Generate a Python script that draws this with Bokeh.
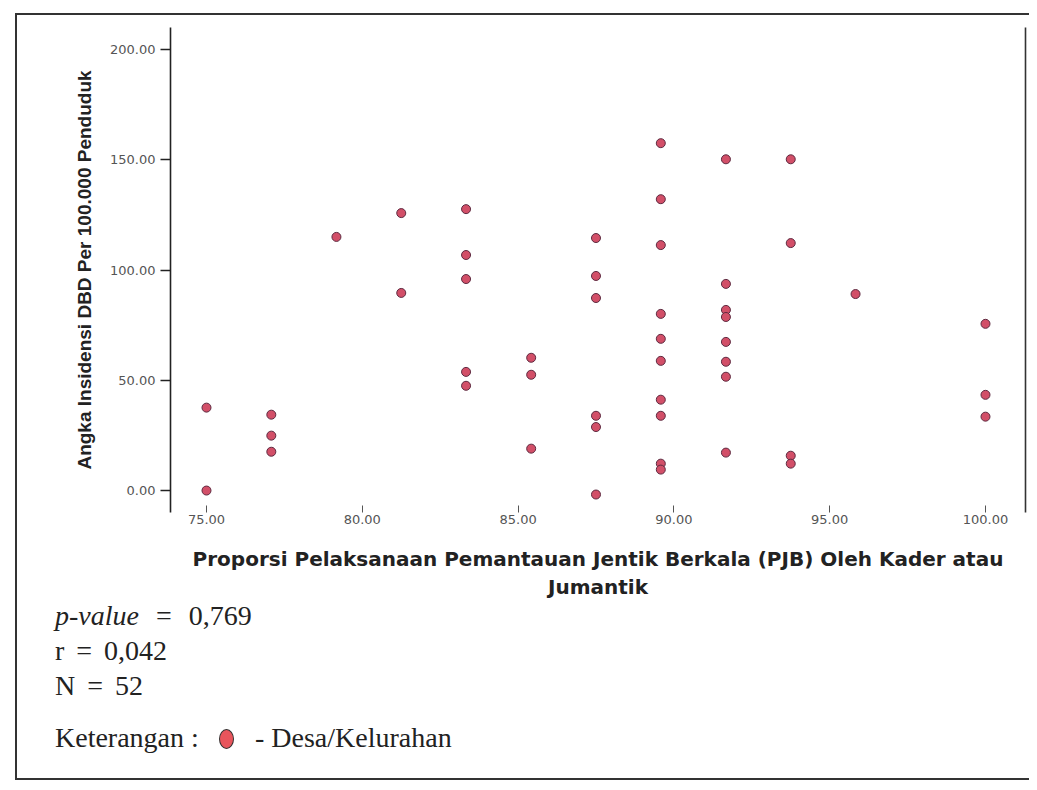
from bokeh.plotting import figure
from bokeh.models import Range1d, FixedTicker, PrintfTickFormatter, LinearAxis, Div
from bokeh.layouts import column
from bokeh.embed import file_html
from bokeh.resources import INLINE

# ---- data ----
x_ticks = [75, 80, 85, 90, 95, 100]
y_ticks = [0, 50, 100, 150, 200]

pjb = [75.00, 75.00,
       77.08, 77.08, 77.08,
       79.17,
       81.25, 81.25,
       83.33, 83.33, 83.33, 83.33, 83.33,
       85.42, 85.42, 85.42,
       87.50, 87.50, 87.50, 87.50, 87.50, 87.50,
       89.58, 89.58, 89.58, 89.58, 89.58, 89.58, 89.58, 89.58, 89.58, 89.58,
       91.67, 91.67, 91.67, 91.67, 91.67, 91.67, 91.67, 91.67,
       93.75, 93.75, 93.75, 93.75,
       95.83,
       100.00, 100.00, 100.00]
insidensi = [37.6, 0.0,
             34.4, 24.9, 17.6,
             115.0,
             125.8, 89.6,
             127.6, 106.8, 95.9, 53.8, 47.5,
             60.2, 52.5, 19.0,
             114.5, 97.3, 87.3, 33.9, 28.8, -1.8,
             157.5, 132.1, 111.3, 80.1, 68.8, 58.8, 41.2, 33.9, 12.2, 9.5,
             150.2, 93.7, 81.9, 78.7, 67.4, 58.4, 51.6, 17.2,
             150.2, 112.2, 15.8, 12.2,
             89.1,
             75.6, 43.4, 33.5]

x_title = "Proporsi Pelaksanaan Pemantauan Jentik Berkala (PJB) Oleh Kader atau\nJumantik"
y_title = "Angka Insidensi DBD Per 100.000 Penduduk"
p_value = "0,769"
r_value = "0,042"
n_value = "52"
legend_title = "Keterangan :"
legend_label = "- Desa/Kelurahan"

W, HF, HD = 1029, 602, 178
p = figure(width=W, height=HF, output_backend="svg", toolbar_location=None,
           x_range=Range1d(73.845, 101.284), y_range=Range1d(-9.95, 209.95),
           min_border_left=170, min_border_right=4, min_border_top=27,
           min_border_bottom=HF - 513, x_axis_location=None, y_axis_location=None)
# outer frame lines (left + top) drawn by the host element, inset from its edge
p.styles = {"box-shadow": "inset 15px 13px 0 0 #ffffff, inset 17px 15px 0 0 #333333"}
p.outline_line_color = None
p.xgrid.visible = False
p.ygrid.visible = False
p.background_fill_color = None
p.border_fill_color = None

# left (y) axis
ya = LinearAxis(ticker=FixedTicker(ticks=y_ticks), formatter=PrintfTickFormatter(format="%.2f"))
ya.axis_label = y_title
ya.axis_label_text_font = "Liberation Sans"
ya.axis_label_text_font_style = "bold"
ya.axis_label_text_font_size = "19px"
ya.axis_label_text_color = "#222222"
ya.axis_label_standoff = 12
ya.axis_line_color = "#222222"
ya.axis_line_width = 1.6
ya.major_tick_line_color = "#222222"
ya.major_tick_line_width = 1.3
ya.major_tick_in = 0
ya.major_tick_out = 10
ya.minor_tick_line_color = None
ya.major_label_text_font = "DejaVu Sans"
ya.major_label_text_font_size = "13px"
ya.major_label_text_color = "#555555"
ya.major_label_standoff = 5
p.add_layout(ya, "left")

# bottom (x) axis
xa = LinearAxis(ticker=FixedTicker(ticks=x_ticks), formatter=PrintfTickFormatter(format="%.2f"))
xa.axis_label = x_title
xa.axis_label_text_font = "DejaVu Sans"
xa.axis_label_text_font_style = "bold"
xa.axis_label_text_font_size = "20px"
xa.axis_label_text_color = "#222222"
xa.axis_label_standoff = 20
xa.axis_line_color = None
xa.major_tick_line_color = "#555555"
xa.major_tick_in = 7
xa.major_tick_out = 0
xa.minor_tick_line_color = None
xa.major_label_text_font = "DejaVu Sans"
xa.major_label_text_font_size = "13px"
xa.major_label_text_color = "#555555"
xa.major_label_standoff = 2
p.add_layout(xa, "below")

# right frame line
ra = LinearAxis(ticker=FixedTicker(ticks=[]))
ra.axis_line_color = "#333333"
ra.axis_line_width = 1.6
ra.major_tick_out = 0
ra.major_tick_in = 0
ra.minor_tick_line_color = None
ra.major_label_text_font_size = "0px"
ra.major_label_standoff = 0
p.add_layout(ra, "right")

p.scatter(pjb, insidensi, marker="circle", size=9, fill_color="#d24f68",
          line_color="#5e2a40", line_width=1)

# statistics / legend block below the chart
font = ("font-family:'Liberation Serif','Times New Roman',serif;font-size:28px;"
        "line-height:28px;color:#222;white-space:nowrap;position:absolute;")
html = (
    '<div style="position:relative;width:1020px;height:176px;">'
    f'<div style="{font}left:55px;top:0px;word-spacing:10px;"><i>p-value</i> = {p_value}</div>'
    f'<div style="{font}left:55px;top:35px;word-spacing:5px;">r = {r_value}</div>'
    f'<div style="{font}left:55px;top:70px;word-spacing:5px;">N = {n_value}</div>'
    f'<div style="{font}left:55px;top:122px;">{legend_title}</div>'
    '<div style="position:absolute;left:219px;top:127px;width:15px;height:20px;'
    'border-radius:50%;background:#e8555c;border:1.5px solid #333;"></div>'
    f'<div style="{font}left:255px;top:122px;">{legend_label}</div>'
    '</div>'
)
d = Div(text=html, width=W, height=HD, margin=0,
        styles={"box-shadow": "inset 15px 0 0 0 #ffffff, inset 17px -2px 0 0 #333333"})

layout = column(p, d, spacing=0)

open("out.html", "w").write(file_html(layout, INLINE))
